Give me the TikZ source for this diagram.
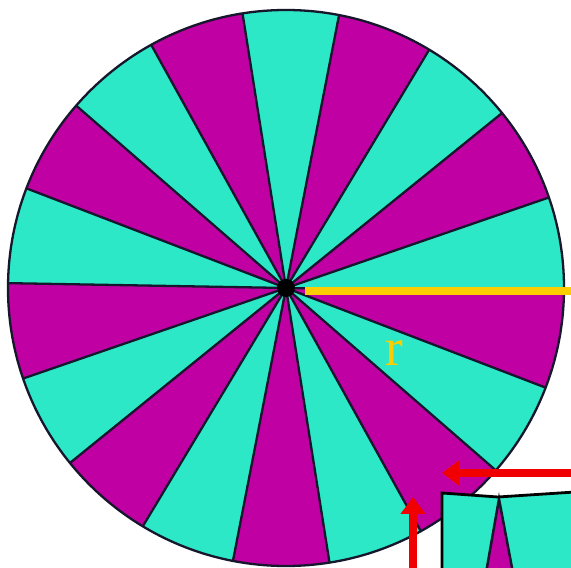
\documentclass[tikz,border=0pt]{standalone}
\usepackage{fontspec}
\setmainfont{Liberation Serif}
\usetikzlibrary{arrows.meta}
\definecolor{wheelcyan}{RGB}{44,232,198}
\definecolor{wheelmagenta}{RGB}{192,0,162}
\definecolor{rimline}{RGB}{22,22,44}
\definecolor{radiusgold}{RGB}{255,204,0}
\definecolor{arrowred}{RGB}{240,0,0}
\begin{document}
\begin{tikzpicture}[x=1pt,y=1pt,
  spoke/.style={rimline,line width=2.3pt},
  redarrow/.style={arrowred,line width=8pt,-{Triangle[length=17pt,width=24pt]}}]
 \useasboundingbox (0,0) rectangle (571,568);
 \clip (0,0) rectangle (571,568);
 \fill[white] (0,0) rectangle (571,568);
 \coordinate (O) at (286,280);
 % sectors, 20 degrees each, cyan and magenta in turn
 \foreach \a in {-1,39,...,319} {
   \fill[wheelcyan] (O) -- ++(\a:278) arc[start angle=\a, end angle=\a+20, radius=278] -- cycle;
   \fill[wheelmagenta] (O) -- ++(\a+20:278) arc[start angle=\a+20, end angle=\a+40, radius=278] -- cycle;
 }
 \foreach \a in {-1,19,...,339} \draw[spoke] (O) -- ++(\a:278);
 \draw[spoke] (O) circle[radius=278];
 \fill[black] (O) circle[radius=9];
 % radius
 \coordinate (radstart) at (305,277);
 \coordinate (radend) at (575,277);
 \draw[radiusgold,line width=8pt] (radstart) -- (radend);
 \node[radiusgold,inner sep=0pt,font=\fontsize{53}{56}\selectfont] (rlabel) at (394,215) {r};
 % inset close-up
 \fill[wheelcyan] (442,75) -- (498,71) -- (575,76) -- (575,-5) -- (442,-5) -- cycle;
 \fill[wheelmagenta] (499,69) -- (486,-5) -- (513,-5) -- cycle;
 \draw[rimline,line width=2.5pt] (486,-5) -- (499,69) -- (513,-5);
 \draw[black,line width=2.8pt] (442,-5) -- (442,75) -- (498,71) -- (575,76);
 % arrows
 \coordinate (hstart) at (580,95);
 \coordinate (htip) at (442,95);
 \coordinate (vstart) at (413,-5);
 \coordinate (vtip) at (413,71);
 \draw[redarrow] (hstart) -- (htip);
 \draw[redarrow] (vstart) -- (vtip);
\end{tikzpicture}
\end{document}
